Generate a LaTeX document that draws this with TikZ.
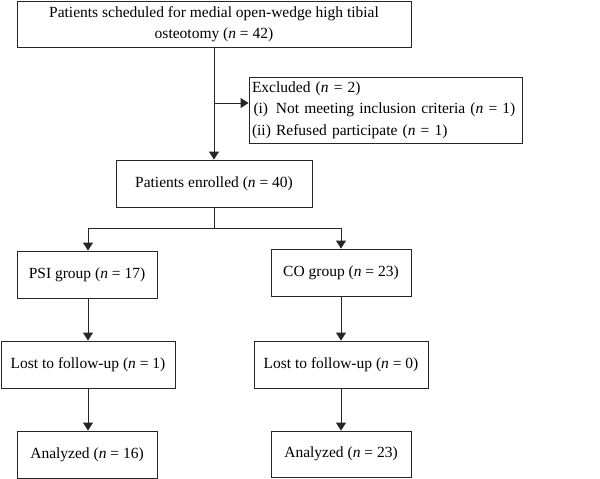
\documentclass[tikz,border=0pt]{standalone}
\usepackage{fontspec}
\setmainfont{Liberation Serif}
\usetikzlibrary{arrows.meta}
\begin{document}
\begin{tikzpicture}[x=1pt,y=-1pt,
  every node/.style={font=\fontsize{15.5}{21.5}\selectfont},
  box/.style={draw=black!85,line width=0.9pt,inner sep=0pt,align=center},
  conn/.style={draw=black!85,line width=0.9pt},
  arr/.style={conn,-{Triangle[length=8pt,width=10pt]}}]
\useasboundingbox (0,0) rectangle (600,479);
\newcommand{\nn}{\textit{n}}
\node[box,minimum width=394pt,minimum height=46pt] (top) at (214,24)
  {Patients scheduled for medial open-wedge high tibial\\osteotomy (\nn{} = 42)};
\node[box,minimum width=273pt,minimum height=66pt,align=left,text width=267pt] (exc) at (385.5,110)
  {Excluded (\nn{} = 2)\\\hspace*{1.5pt}(i)\ \,Not meeting inclusion criteria (\nn{} = 1)\\(ii) Refused participate (\nn{} = 1)};
\node[box,minimum width=196pt,minimum height=47pt] (enr) at (214,183.5) {Patients enrolled (\nn{} = 40)};
\node[box,minimum width=140pt,minimum height=47pt] (psi) at (87,274.5) {PSI group (\nn{} = 17)};
\node[box,minimum width=140pt,minimum height=47pt] (co) at (341,272.5) {CO group (\nn{} = 23)};
\node[box,minimum width=174pt,minimum height=47pt] (l1) at (88,364.5) {Lost to follow-up (\nn{} = 1)};
\node[box,minimum width=174pt,minimum height=47pt] (l2) at (341,364.5) {Lost to follow-up (\nn{} = 0)};
\node[box,minimum width=140pt,minimum height=47pt] (a1) at (87,454.5) {Analyzed (\nn{} = 16)};
\node[box,minimum width=140pt,minimum height=46pt] (a2) at (341,454) {Analyzed (\nn{} = 23)};
\coordinate (br) at (214,103);
\coordinate (sp) at (214,228);
\draw[arr] (top.south) -- (enr.north);
\draw[arr] (br) -- (br -| exc.west);
\draw[conn] (enr.south) -- (sp);
\draw[arr] (sp) -| (l1.north |- psi.north);
\draw[arr] (sp) -| (co.north);
\draw[arr] (l1.north |- psi.south) -- (l1.north);
\draw[arr] (co.south) -- (l2.north);
\draw[arr] (l1.south) -- (l1.south |- a1.north);
\draw[arr] (l2.south) -- (a2.north);
\end{tikzpicture}
\end{document}
